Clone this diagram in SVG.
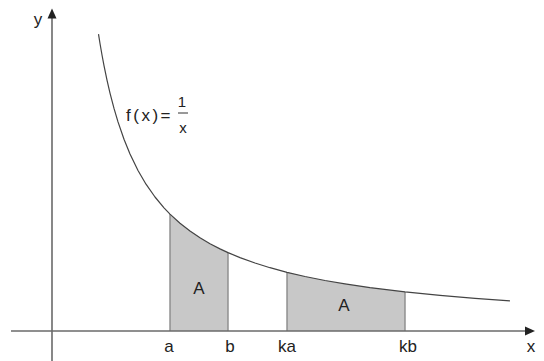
<svg xmlns="http://www.w3.org/2000/svg" width="544" height="361" viewBox="0 0 544 361">
<style>
  .lbl { font-family: "Liberation Sans", Arial, sans-serif; font-size: 17px; fill: #222; }
  .frac { font-family: "Liberation Sans", Arial, sans-serif; font-size: 15px; fill: #222; }
  .region { fill: #c8c8c8; stroke: none; }
  .edge { stroke: #8a8a8a; stroke-width: 1.4; fill: none; }
  .axis { stroke: #6a6a6a; stroke-width: 1.6; fill: none; }
  .curve { stroke: #444; stroke-width: 1.2; fill: none; stroke-linejoin: round; }
  .head { fill: #222; }
</style>
<rect width="544" height="361" fill="#fff"/>
<g id="region-ab">
  <polygon class="region" points="170,331 170,214.1 180,223.2 190,231 200,237.8 210,243.7 220,248.9 228,252.6 228,331"/>
  <line class="edge" x1="170" y1="214.1" x2="170" y2="331"/>
  <line class="edge" x1="228" y1="252.6" x2="228" y2="331"/>
  <text class="lbl" x="199" y="294" text-anchor="middle">A</text>
</g>
<g id="region-kakb">
  <polygon class="region" points="287,331 287,272.3 305,276.5 325,280.5 345,283.9 370,287.6 405,291.9 405,331"/>
  <line class="edge" x1="287" y1="272.3" x2="287" y2="331"/>
  <line class="edge" x1="405" y1="291.9" x2="405" y2="331"/>
  <text class="lbl" x="344" y="311" text-anchor="middle">A</text>
</g>
<g id="axes">
  <line class="axis" x1="11" y1="331" x2="527" y2="331"/>
  <polygon class="head" points="535,331 525,326.5 525,335.5"/>
  <line class="axis" x1="52" y1="17" x2="52" y2="361"/>
  <polygon class="head" points="52,8.5 47.5,18.5 56.5,18.5"/>
  <text class="lbl" x="38" y="25" text-anchor="middle">y</text>
  <text class="lbl" x="531" y="352" text-anchor="middle">x</text>
</g>
<g id="ticks">
  <text class="lbl" x="169" y="352" text-anchor="middle">a</text>
  <text class="lbl" x="230" y="352" text-anchor="middle">b</text>
  <text class="lbl" x="287" y="352" text-anchor="middle">ka</text>
  <text class="lbl" x="408" y="352" text-anchor="middle">kb</text>
</g>
<g id="curve">
  <polyline class="curve" points="98.5,34.2 100,43.5 102,55 104,65.6 107,80.1 110,93.1 114,108.4 118,121.9 124,139.3 130,154.1 138,170.5 146,184.2 155,197 164,207.8 170,214.1 180,223.2 190,231 200,237.8 210,243.7 220,248.9 228,252.6 240,257.6 255,263 270,267.7 287,272.3 305,276.5 325,280.5 345,283.9 370,287.6 405,291.9 440,295.4 475,298.4 510,300.9"/>
  <text class="lbl" x="126" y="121" letter-spacing="2.5">f(x)=</text>
  <text class="frac" x="182" y="107" text-anchor="middle">1</text>
  <line x1="178" y1="113" x2="188" y2="113" stroke="#333" stroke-width="1"/>
  <text class="frac" x="183" y="133" text-anchor="middle">x</text>
</g>
</svg>
